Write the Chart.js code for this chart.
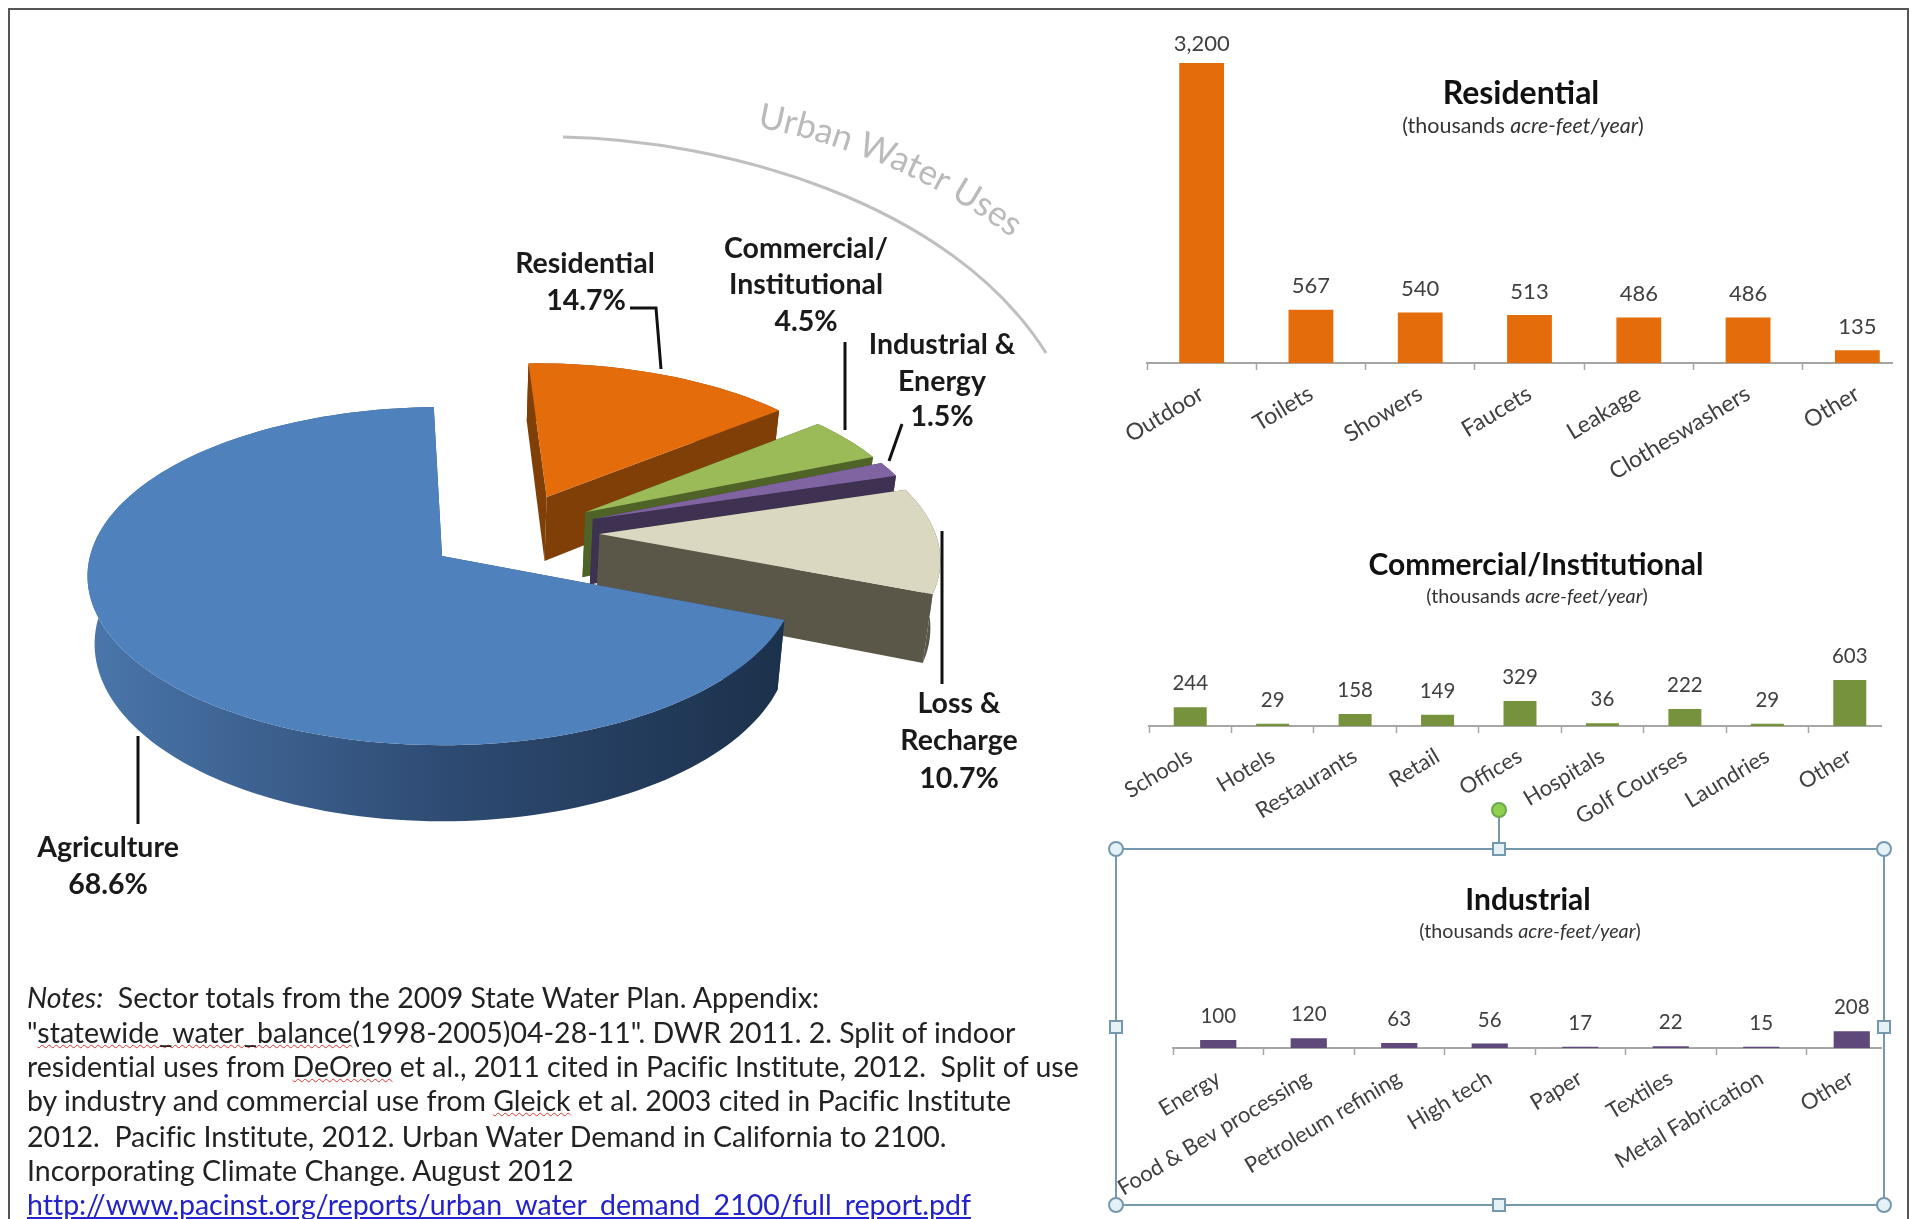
<!DOCTYPE html>
<html>
<head>
<meta charset="utf-8">
<title>Urban water uses</title>
<script src="https://cdn.jsdelivr.net/npm/chart.js@4"></script>
<style>
    html, body { margin: 0; background: #fff; }
    body { position: relative; width: 1915px; height: 1219px; overflow: hidden; font-family: Lato, sans-serif; color: #111; }
    .frame { position: absolute; left: 8px; top: 8px; width: 1897px; height: 1300px; border: 2px solid #555; }
    .box { position: absolute; overflow: hidden; }
    .box canvas { position: absolute; left: 0; top: 0; }
    #pieChart { position: absolute; left: 0; top: 0; }
    .t { position: absolute; transform: translate(-50%, -50%); white-space: nowrap; text-align: center; }
    .head { font-weight: 700; font-size: 30px; color: #111; }
    .sub { font-size: 19.7px; color: #333; }
    .lab { font-weight: 700; font-size: 28.5px; color: #1a1a1a; }
    .note { position: absolute; left: 27px; white-space: pre; font-size: 28.5px; color: #222; transform: translateY(-50%); font-variant-ligatures: none; }
    .sq { text-decoration: underline wavy #d33; text-decoration-thickness: 1px; }
    .note a { color: #2323c8; }
    svg { position: absolute; left: 0; top: 0; }
</style>
</head>
<body>
<div class="frame"></div>
<canvas id="pieChart" width="1100" height="960"></canvas>

<div class="box" id="boxRes"><canvas id="resChart"></canvas></div>
<div class="box" id="boxCom"><canvas id="comChart"></canvas></div>
<div class="box" id="boxInd"><canvas id="indChart"></canvas></div>

<svg width="1915" height="1219">
    <!-- urban arc and its caption -->
    <path d="M563 137 C 720 140, 950 200, 1046 353" fill="none" stroke="#bfbfbf" stroke-width="3"/>
    <path id="urbanPath" d="M757 127 Q 905 155 1021 245" fill="none"/>
    <text font-family="Lato" font-size="35" fill="#bababa"><textPath href="#urbanPath">Urban Water Uses</textPath></text>
    <!-- leader lines -->
    <g fill="none" stroke="#111" stroke-width="3">
        <path d="M630 308 H656 L661 369"/>
        <path d="M845 342 V430"/>
        <path d="M902 424 L889 461"/>
        <path d="M942 531 V684"/>
        <path d="M138 736 V824"/>
    </g>
    <!-- selection box round the industrial chart -->
    <g stroke="#7598ad" stroke-width="2" fill="#e4f1f6">
        <rect x="1116" y="849" width="768" height="356" fill="none"/>
        <path d="M1499 849 V816" fill="none"/>
        <circle cx="1499" cy="810" r="7" fill="#8fd14f" stroke="#6aa84f"/>
        <circle cx="1116" cy="849" r="7"/><circle cx="1884" cy="849" r="7"/>
        <circle cx="1116" cy="1205" r="7"/><circle cx="1884" cy="1205" r="7"/>
        <rect x="1493" y="843" width="12" height="12"/><rect x="1493" y="1199" width="12" height="12"/>
        <rect x="1110" y="1021" width="12" height="12"/><rect x="1878" y="1021" width="12" height="12"/>
    </g>
</svg>

<!-- pie labels -->
<div class="t lab" style="left:585px;top:262px">Residential</div>
<div class="t lab" style="left:586px;top:299px">14.7%</div>
<div class="t lab" style="left:806px;top:247px">Commercial/</div>
<div class="t lab" style="left:806px;top:283px">Institutional</div>
<div class="t lab" style="left:806px;top:320px">4.5%</div>
<div class="t lab" style="left:942px;top:343px">Industrial &amp;</div>
<div class="t lab" style="left:942px;top:380px">Energy</div>
<div class="t lab" style="left:942px;top:415px">1.5%</div>
<div class="t lab" style="left:959px;top:702px">Loss &amp;</div>
<div class="t lab" style="left:959px;top:739px">Recharge</div>
<div class="t lab" style="left:959px;top:777px">10.7%</div>
<div class="t lab" style="left:108px;top:846px">Agriculture</div>
<div class="t lab" style="left:108px;top:883px">68.6%</div>

<!-- bar chart titles -->
<div class="t head" style="left:1521px;top:91px;font-size:32px">Residential</div>
<div class="t sub" style="left:1523px;top:125px;font-size:21.5px">(thousands <i>acre-feet/year</i>)</div>
<div class="t head" style="left:1536px;top:563px">Commercial/Institutional</div>
<div class="t sub" style="left:1537px;top:595px">(thousands <i>acre-feet/year</i>)</div>
<div class="t head" style="left:1528px;top:898px">Industrial</div>
<div class="t sub" style="left:1530px;top:930px">(thousands <i>acre-feet/year</i>)</div>

<!-- notes -->
<div class="note" style="top:997px"><i>Notes:</i>  Sector totals from the 2009 State Water Plan. Appendix:</div>
<div class="note" style="top:1032px">"<span class="sq">statewide_water_balance</span>(1998-2005)04-28-11". DWR 2011. 2. Split of indoor</div>
<div class="note" style="top:1066px">residential uses from <span class="sq">DeOreo</span> et al., 2011 cited in Pacific Institute, 2012.  Split of use</div>
<div class="note" style="top:1100px">by industry and commercial use from <span class="sq">Gleick</span> et al. 2003 cited in Pacific Institute</div>
<div class="note" style="top:1136px">2012.  Pacific Institute, 2012. Urban Water Demand in California to 2100.</div>
<div class="note" style="top:1170px">Incorporating Climate Change. August 2012</div>
<div class="note" style="top:1204px"><a href="#">http://www.pacinst.org/reports/urban_water_demand_2100/full_report.pdf</a></div>

<script>
// Pie: share of water use per sector
const sectorLabels = ['Residential', 'Commercial/Institutional', 'Industrial & Energy', 'Loss & Recharge', 'Agriculture'];
const sectorShares = [14.7, 4.5, 1.5, 10.7, 68.6];

// Bars: thousands acre-feet/year
const residentialLabels = ['Outdoor', 'Toilets', 'Showers', 'Faucets', 'Leakage', 'Clotheswashers', 'Other'];
const residentialValues = [3200, 567, 540, 513, 486, 486, 135];
const commercialLabels = ['Schools', 'Hotels', 'Restaurants', 'Retail', 'Offices', 'Hospitals', 'Golf Courses', 'Laundries', 'Other'];
const commercialValues = [244, 29, 158, 149, 329, 36, 222, 29, 603];
const industrialLabels = ['Energy', 'Food & Bev processing', 'Petroleum refining', 'High tech', 'Paper', 'Textiles', 'Metal Fabrication', 'Other'];
const industrialValues = [100, 120, 63, 56, 17, 22, 15, 208];

// fake 3D for the pie: a tilted disc with a little perspective
const pieView = { cx: 442, cy: 556, rx: 352, ry: 166.7, persp: 0.119, depth: 67, explode: 0.25, smallRim: 0.97 };
const faceColors = ['#e46c0a', '#9bbb59', '#8064a2', '#dbd8c1', '#4f81bd'];
const wallColors = ['#7f3f06', '#4f6228', '#3f3151', '#5a5648', '#2e4b73'];

function project(u, v, low) {
    const w = 1 - pieView.persp * v;
    const x = u * pieView.rx / w, y = v * pieView.ry / w;
    return low ? [pieView.cx + x * 0.98, pieView.cy + y + pieView.depth / w] : [pieView.cx + x, pieView.cy + y];
}

function fillPoly(ctx, pts, fill) {
    ctx.beginPath();
    pts.forEach((p, i) => i ? ctx.lineTo(p[0], p[1]) : ctx.moveTo(p[0], p[1]));
    ctx.closePath();
    ctx.fillStyle = fill;
    ctx.fill();
}

const pie3d = {
    id: 'pie3d',
    beforeDatasetDraw(chart, args) {
        const ctx = chart.ctx;
        const arcs = args.meta.data;
        // the biggest slice stays put, the others move out from a shared centre
        const last = arcs.length - 1;
        const bigMid = (arcs[last].startAngle + arcs[last].endAngle) / 2;
        arcs.forEach((arc, i) => {
            const mid = (arc.startAngle + arc.endAngle) / 2;
            const ou = pieView.explode * (Math.cos(mid) - Math.cos(bigMid));
            const ov = pieView.explode * (Math.sin(mid) - Math.sin(bigMid));
            const r = i === last ? 1 : pieView.smallRim;
            const top = [], low = [];
            const steps = Math.max(2, Math.ceil((arc.endAngle - arc.startAngle) / 0.03));
            for (let s = 0; s <= steps; s++) {
                const a = arc.startAngle + (arc.endAngle - arc.startAngle) * s / steps;
                top.push(project(ou + r * Math.cos(a), ov + r * Math.sin(a), false));
                low.push(project(ou + r * Math.cos(a), ov + r * Math.sin(a), true));
            }
            const oTop = project(ou, ov, false), oLow = project(ou, ov, true);
            fillPoly(ctx, [oTop, top[0], low[0], oLow], wallColors[i]);
            fillPoly(ctx, [oTop, top[steps], low[steps], oLow], wallColors[i]);
            let rim = wallColors[i];
            if (i === last) {
                rim = ctx.createLinearGradient(pieView.cx - pieView.rx, 0, pieView.cx + pieView.rx, 0);
                rim.addColorStop(0, '#4a76ab');
                rim.addColorStop(0.5, '#2e4b73');
                rim.addColorStop(1, '#1b304a');
            }
            fillPoly(ctx, top.concat(low.slice().reverse()), rim);
            fillPoly(ctx, [oTop].concat(top), arc.options.backgroundColor);
        });
        return false;
    }
};

new Chart(document.getElementById('pieChart'), {
    type: 'pie',
    data: {
        labels: sectorLabels,
        datasets: [{ data: sectorShares, backgroundColor: faceColors, borderWidth: 0 }]
    },
    options: {
        responsive: false,
        animation: false,
        rotation: -1.5,
        plugins: { legend: { display: false }, tooltip: { enabled: false } }
    },
    plugins: [pie3d]
});

// value above each bar
const barValues = {
    id: 'barValues',
    afterDatasetsDraw(chart, args, opts) {
        const ctx = chart.ctx;
        const ds = chart.data.datasets[0];
        chart.getDatasetMeta(0).data.forEach((bar, i) => {
            ctx.save();
            ctx.font = opts.size + 'px Lato';
            ctx.fillStyle = '#404040';
            ctx.textAlign = 'center';
            ctx.textBaseline = 'middle';
            ctx.fillText(ds.data[i].toLocaleString('en-US'), bar.x, Math.max(bar.y - 23.5, opts.minY));
            ctx.restore();
        });
    }
};

function barChart(id, boxId, labels, values, o) {
    const headroom = 40, leftRoom = 80, band = 150;
    const box = document.getElementById(boxId);
    box.style.left = (o.left - leftRoom) + 'px';
    box.style.top = (o.axisY - o.plotH - headroom) + 'px';
    box.style.width = (o.clipX - o.left + leftRoom) + 'px';
    box.style.height = (headroom + o.plotH + band) + 'px';
    const canvas = document.getElementById(id);
    canvas.width = leftRoom + labels.length * o.step;
    canvas.height = headroom + o.plotH + band;
    new Chart(canvas, {
        type: 'bar',
        data: {
            labels: labels,
            datasets: [{ data: values, backgroundColor: o.color, categoryPercentage: 1, barPercentage: o.barPct }]
        },
        options: {
            responsive: false,
            animation: false,
            layout: { padding: { left: leftRoom, right: 0, top: headroom, bottom: 0 } },
            scales: {
                x: {
                    afterFit(s) { s.height = band; s.paddingLeft = 0; s.paddingRight = 0; },
                    border: { color: '#a6a6a6', width: 2 },
                    grid: {
                        drawOnChartArea: false,
                        tickLength: 7,
                        tickWidth: 1.5,
                        tickColor: c => c.type === 'tick' ? '#a6a6a6' : 'transparent'
                    },
                    ticks: {
                        autoSkip: false,
                        minRotation: 31,
                        maxRotation: 31,
                        padding: o.pad,
                        color: '#404040',
                        font: { family: 'Lato', size: o.tickSize }
                    }
                },
                y: { display: false, min: 0, max: o.yMax }
            },
            plugins: {
                legend: { display: false },
                tooltip: { enabled: false },
                barValues: { size: o.valueSize, minY: o.valueMinY || 0 }
            }
        },
        plugins: [barValues]
    });
}

barChart('resChart', 'boxRes', residentialLabels, residentialValues, {
    left: 1147, step: 109.4, clipX: 1893, axisY: 362.5, plotH: 300, yMax: 3200,
    barPct: 0.41, color: '#e46c0a', tickSize: 23, valueSize: 22, pad: 10, valueMinY: 21
});
barChart('comChart', 'boxCom', commercialLabels, commercialValues, {
    left: 1149.4, step: 82.5, clipX: 1882, axisY: 725.5, plotH: 100, yMax: 1310,
    barPct: 0.4, color: '#76923c', tickSize: 22, valueSize: 20.5, pad: 10
});
barChart('indChart', 'boxInd', industrialLabels, industrialValues, {
    left: 1172.8, step: 90.6, clipX: 1882, axisY: 1047.6, plotH: 50, yMax: 623,
    barPct: 0.4, color: '#5f497a', tickSize: 22, valueSize: 20.5, pad: 10
});
</script>
</body>
</html>
